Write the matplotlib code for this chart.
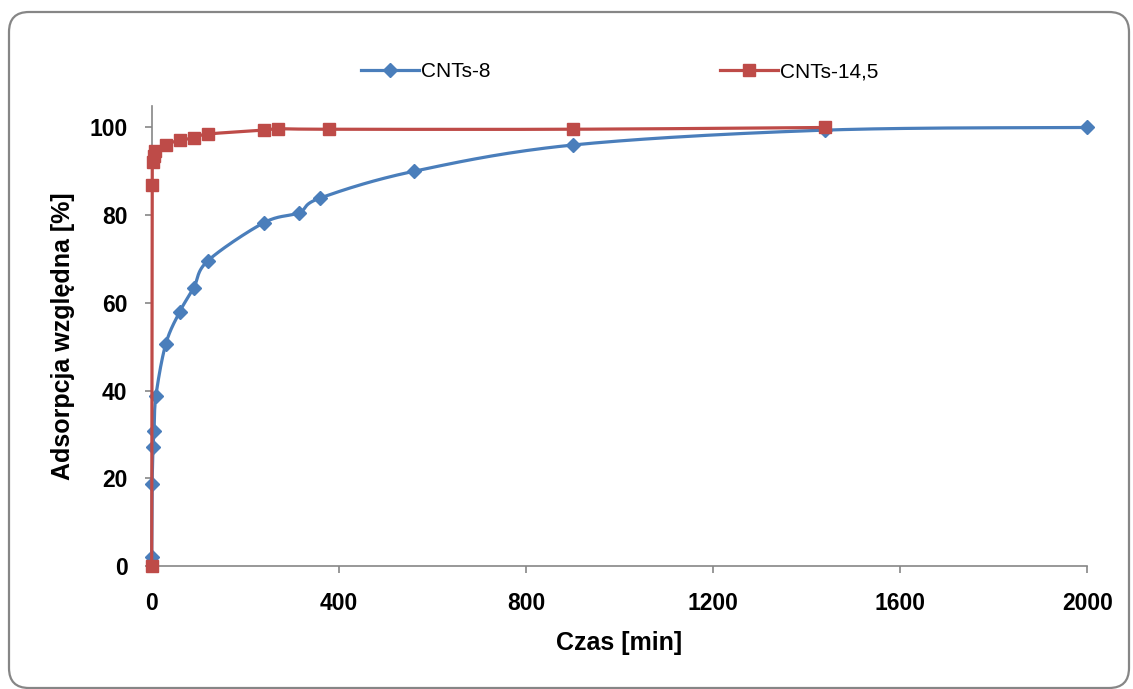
import matplotlib
matplotlib.use("Agg")
import matplotlib.pyplot as plt
from matplotlib.patches import FancyBboxPatch
from matplotlib.transforms import IdentityTransform
import numpy as np

# data
time_cnt8 = [0, 1, 3, 5, 9, 30, 60, 90, 120, 240, 315, 360, 560, 900, 1440, 2000]
ads_cnt8 = [2.0, 18.8, 27.2, 30.8, 38.8, 50.6, 58.0, 63.5, 69.6, 78.3, 80.6, 83.9, 90.0, 96.0, 99.4, 100.0]

time_cnt145 = [0, 1, 3, 5, 8, 30, 60, 90, 120, 240, 270, 380, 900, 1440]
ads_cnt145 = [0.0, 86.8, 92.2, 93.5, 94.7, 96.1, 97.1, 97.6, 98.5, 99.4, 99.7, 99.6, 99.6, 100.0]

series_names = ["CNTs-8", "CNTs-14,5"]
x_ticks = [0, 400, 800, 1200, 1600, 2000]
y_ticks = [0, 20, 40, 60, 80, 100]

BLUE = "#4A7EBB"
RED = "#BE4B48"
GREY = "#868686"

W, H, DPI = 1133, 689, 100
plt.rcParams["font.family"] = ["Liberation Sans", "DejaVu Sans"]


def smooth(ax, xs, ys, n=30):
    # Excel-like smoothed line: Catmull-Rom spline in screen space
    pts = ax.transData.transform(np.column_stack([xs, ys]))
    out = [pts[0]]
    for i in range(len(pts) - 1):
        p0 = pts[i - 1] if i > 0 else pts[i]
        p1, p2 = pts[i], pts[i + 1]
        p3 = pts[i + 2] if i + 2 < len(pts) else pts[i + 1]
        c1 = p1 + (p2 - p0) / 6.0
        c2 = p2 - (p3 - p1) / 6.0
        t = np.linspace(0, 1, n)[1:, None]
        seg = ((1 - t) ** 3) * p1 + 3 * ((1 - t) ** 2) * t * c1 \
            + 3 * (1 - t) * t ** 2 * c2 + t ** 3 * p2
        out.extend(seg)
    out = np.array(out)
    return ax.transData.inverted().transform(out).T


fig = plt.figure(figsize=(W / DPI, H / DPI), dpi=DPI)
ax = fig.add_axes([151.7 / W, (H - 566) / H, (1087.3 - 151.7) / W, (566 - 106) / H])
ax.set_xlim(0, 2000)
ax.set_ylim(0, 104.9)

sx, sy = smooth(ax, time_cnt8, ads_cnt8)
ax.plot(sx, sy, color=BLUE, lw=2.3, zorder=3, clip_on=False)
ax.plot(time_cnt8, ads_cnt8, ls="none", marker="D", ms=7.5, color=BLUE, zorder=4, clip_on=False)
ax.plot([], [], color=BLUE, lw=2.3, marker="D", ms=7.5, label=series_names[0])

sx, sy = smooth(ax, time_cnt145, ads_cnt145)
ax.plot(sx, sy, color=RED, lw=2.3, zorder=5, clip_on=False)
ax.plot(time_cnt145, ads_cnt145, ls="none", marker="s", ms=8, color=RED, zorder=6, clip_on=False)
ax.plot([], [], color=RED, lw=2.3, marker="s", ms=8, label=series_names[1])

for s in ("top", "right"):
    ax.spines[s].set_visible(False)
for s in ("left", "bottom"):
    ax.spines[s].set_color(GREY)
    ax.spines[s].set_linewidth(1.2)
ax.set_xticks(x_ticks)
ax.set_yticks(y_ticks)
ax.tick_params(colors=GREY, length=5, width=1.2, labelcolor="black", labelsize=16.5)
ax.tick_params(axis="x", pad=14)
ax.tick_params(axis="y", pad=12.5)
for lab in ax.get_xticklabels() + ax.get_yticklabels():
    lab.set_fontweight("bold")

ax.set_xlabel("Czas [min]", fontsize=18, fontweight="bold", labelpad=11)
ax.set_ylabel("Adsorpcja względna [%]", fontsize=18, fontweight="bold", labelpad=10)

ax.legend(loc="center", bbox_to_anchor=(0.5, 1.074), ncol=2, frameon=False,
          fontsize=15, handlelength=2.8, handletextpad=0.1, columnspacing=11.0)

frame = FancyBboxPatch((9, 1), 1120, 676, boxstyle="round,pad=0,rounding_size=20",
                       transform=IdentityTransform(), facecolor="none",
                       edgecolor=GREY, lw=1.6)
fig.patches.append(frame)

fig.savefig("out.png", dpi=DPI)
